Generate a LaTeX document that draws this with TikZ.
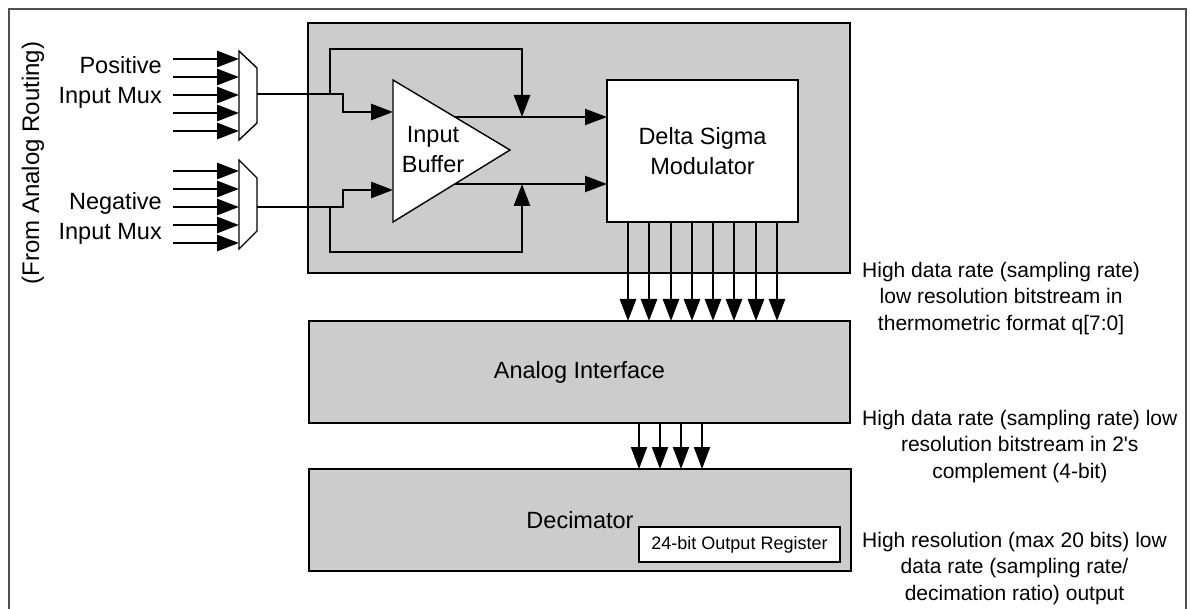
\documentclass[tikz,border=0pt]{standalone}
\usepackage{fontspec}
\setmainfont{Liberation Sans}
\usetikzlibrary{arrows.meta}
\definecolor{blockgray}{RGB}{204,204,204}
\definecolor{framegray}{RGB}{80,80,80}
\begin{document}
\begin{tikzpicture}[x=1pt,y=-1pt,
  txt/.style={font=\fontsize{23.5}{30}\selectfont, align=center, inner sep=0pt},
  note/.style={font=\fontsize{21}{26.5}\selectfont, align=center, inner sep=0pt, anchor=west},
  block/.style={draw=black, line width=2.8pt, fill=blockgray, inner sep=0pt, outer sep=0pt},
  whitebox/.style={draw=black, fill=white, inner sep=0pt, outer sep=0pt},
  wire/.style={line width=2.8pt},
  fine/.style={line width=2pt},
  tip/.style={-{Triangle[length=22pt,width=16pt]}},
  outline/.style={draw=black, fill=white, line width=1.4pt, line join=miter},
]
\useasboundingbox (0,0) rectangle (1190,609);
\fill[white] (0,0) rectangle (1190,609);
% page frame, running past the lower edge
\draw[framegray, line width=1.2pt] (9,620) -- (9,9) -- (1186,9) -- (1186,620);

% main blocks
\node[block, minimum width=542pt, minimum height=250pt] (core) at (579,148) {};
\node[block, txt, minimum width=541pt, minimum height=102pt] (ai) at (579.5,372) {Analog Interface};
\node[block, txt, minimum width=542pt, minimum height=102pt] (dec) at (580,520) {Decimator};
\node[whitebox, line width=2.4pt, minimum width=201pt, minimum height=35pt,
      font=\fontsize{18}{20}\selectfont] (reg) at (739.5,544.5) {24-bit Output Register};
\node[whitebox, txt, line width=2.8pt, minimum width=191pt, minimum height=142pt] (dsm) at (702.5,151) {Delta Sigma\\Modulator};

% input buffer outputs
\coordinate (outP) at (455,117);
\coordinate (outN) at (455,184);
\draw[fine, tip] (outP) -- (outP -| dsm.west);
\draw[fine, tip] (outN) -- (outN -| dsm.west);

% input buffer
\coordinate (bufTop) at (393,80);
\coordinate (bufBot) at (393,222);
\coordinate (bufTip) at (510,150);
\draw[outline] (bufTop) -- (bufTip) -- (bufBot) -- cycle;
\node[txt] (buflabel) at (433,150) {Input\\Buffer};

% positive input mux
\coordinate (pmA) at (239,51);
\coordinate (pmB) at (257,68);
\coordinate (pmC) at (257,123);
\coordinate (pmD) at (239,140);
\coordinate (pmOut) at (257,94);
\draw[outline] (pmA) -- (pmB) -- (pmC) -- (pmD) -- cycle;
\foreach \i/\y in {1/59,2/77,3/95,4/113,5/131} {
  \coordinate (pin\i) at (173,\y);
  \draw[wire, tip] (pin\i) -- (pin\i -| pmA);
}

% negative input mux
\coordinate (nmA) at (239,160);
\coordinate (nmB) at (257,178);
\coordinate (nmC) at (257,231);
\coordinate (nmD) at (239,249);
\coordinate (nmOut) at (257,207);
\draw[outline] (nmA) -- (nmB) -- (nmC) -- (nmD) -- cycle;
\foreach \i/\y in {1/171,2/189,3/207,4/225,5/243} {
  \coordinate (nin\i) at (173,\y);
  \draw[wire, tip] (nin\i) -- (nin\i -| nmA);
}

% mux outputs into the buffer
\coordinate (pKnee) at (343,112);
\coordinate (pIn) at (393,112);
\draw[wire, tip] (pmOut) -| (pKnee) -- (pIn);
\coordinate (nKnee) at (343,190);
\coordinate (nIn) at (393,190);
\draw[wire, tip] (nmOut) -| (nKnee) -- (nIn);

% buffer bypass paths
\coordinate (pSplit) at (330,94);
\coordinate (pLoop) at (522,49);
\draw[wire, tip] (pSplit) |- (pLoop) -- (pLoop |- outP);
\coordinate (nSplit) at (330,207);
\coordinate (nLoop) at (522,252);
\draw[wire, tip] (nSplit) |- (nLoop) -- (nLoop |- outN);

% modulator bitstream q[7:0]
\foreach \i/\x in {0/628,1/649,2/671,3/692,4/713,5/734,6/756,7/777} {
  \coordinate (q\i) at (\x,0);
  \draw[wire, tip] (q\i |- dsm.south) -- (q\i |- ai.north);
}

% 4-bit two's complement stream
\foreach \i/\x in {0/639,1/660,2/681,3/702} {
  \coordinate (c\i) at (\x,0);
  \draw[fine, tip] (c\i |- ai.south) -- (c\i |- dec.north);
}

% labels
\node[txt, anchor=east, align=right] (poslbl) at (162,82) {Positive\\Input Mux};
\node[txt, anchor=east, align=right] (neglbl) at (162,218) {Negative\\Input Mux};
\node[font=\fontsize{24}{28}\selectfont, rotate=90, inner sep=0pt] (src) at (33,163) {(From Analog Routing)};

\node[note] (n1) at (862,298.5) {High data rate (sampling rate)\\low resolution bitstream in\\thermometric format q[7:0]};
\node[note] (n2) at (862,446.5) {High data rate (sampling rate) low\\resolution bitstream in 2\textquotesingle s\\complement (4-bit)};
\node[note] (n3) at (862,568.5) {High resolution (max 20 bits) low\\data rate (sampling rate/\\decimation ratio) output};
\end{tikzpicture}
\end{document}
